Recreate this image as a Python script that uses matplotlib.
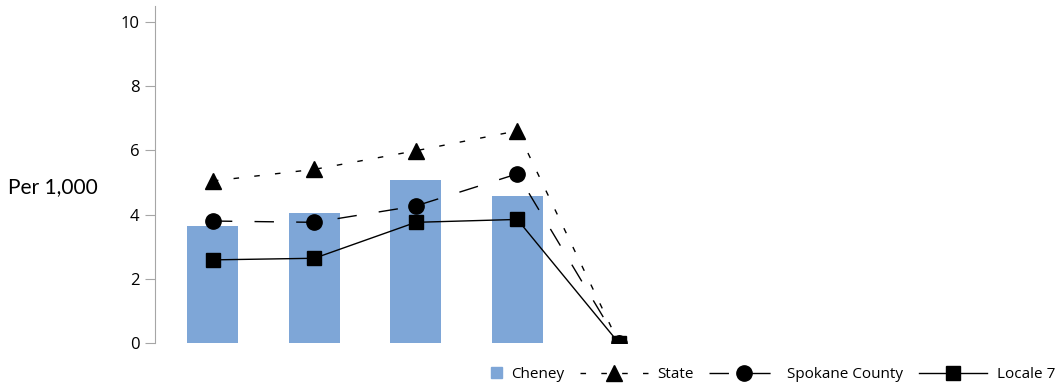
import matplotlib
matplotlib.use("Agg")
import matplotlib.pyplot as plt
from matplotlib.lines import Line2D
from matplotlib.patches import Patch, Rectangle
from matplotlib.legend_handler import HandlerPatch

# ---------------------------------------------------------------------------
# Dados
# ---------------------------------------------------------------------------
anos = ["2011", "2012", "2013", "2014", "2015"]
cheney = [3.65, 4.05, 5.08, 4.58, 0.0]
state = [5.05, 5.41, 5.99, 6.61, 0.0]
spokane = [3.80, 3.76, 4.27, 5.27, 0.0]
locale7 = [2.59, 2.64, 3.76, 3.85, 0.0]
yticks = [0, 2, 4, 6, 8, 10]

AZUL = "#7ea6d7"
CINZA = "#a6a6a6"
TRACO_STATE = (0, (4, 11))
TRACO_SPOKANE = (0, (14, 16))

fig = plt.figure(figsize=(10.56, 3.88), dpi=100)
ax = fig.add_axes([155 / 1056, 45 / 388, 885 / 1056, 337 / 388])

x = list(range(len(anos)))
ax.bar(x[:4], cheney[:4], width=0.5, color=AZUL, zorder=1)

ax.plot(x, state, color="black", lw=1, ls=TRACO_STATE, marker="^", ms=11, zorder=3)
ax.plot(x, spokane, color="black", lw=1, ls=TRACO_SPOKANE, marker="o", ms=11, zorder=3)
ax.plot(x, locale7, color="black", lw=1, ls="-", marker="s", ms=10, zorder=3)

ax.set_xlim(-0.57, 8.15)
ax.set_ylim(0, 10.5)
ax.set_yticks(yticks)
ax.set_yticklabels([str(v) for v in yticks], fontsize=12, family="Open Sans")
ax.set_xticks([])
for lado in ["top", "right", "bottom"]:
    ax.spines[lado].set_visible(False)
ax.spines["left"].set_color(CINZA)
ax.tick_params(axis="y", length=7, color=CINZA, pad=4)

fig.text(8 / 1056, 1 - 187 / 388, "Per 1,000", fontsize=15, family="Lato",
         va="center", ha="left")


def quadrado(legend, orig_handle, xdescent, ydescent, width, height, fontsize):
    # quadradinho encostado no texto, como no original
    s = 0.75 * fontsize
    return Rectangle((-xdescent + width - s, -ydescent + (height - s) / 2), s, s)


handles = [
    Patch(color=AZUL),
    Line2D([], [], color="black", lw=1, ls=TRACO_STATE, marker="^", ms=11),
    Line2D([], [], color="black", lw=1, ls=TRACO_SPOKANE, marker="o", ms=11),
    Line2D([], [], color="black", lw=1, ls="-", marker="s", ms=10),
]
labels = ["Cheney", "State", "Spokane County", "Locale 7"]
fig.legend(handles, labels, loc="lower right", bbox_to_anchor=(1.012, -0.02), ncol=4,
           frameon=False, handlelength=4.5, handletextpad=0.6, columnspacing=1.0,
           prop={"family": "Open Sans", "size": 11},
           handler_map={Patch: HandlerPatch(patch_func=quadrado)})

fig.savefig("out.png", dpi=100)
